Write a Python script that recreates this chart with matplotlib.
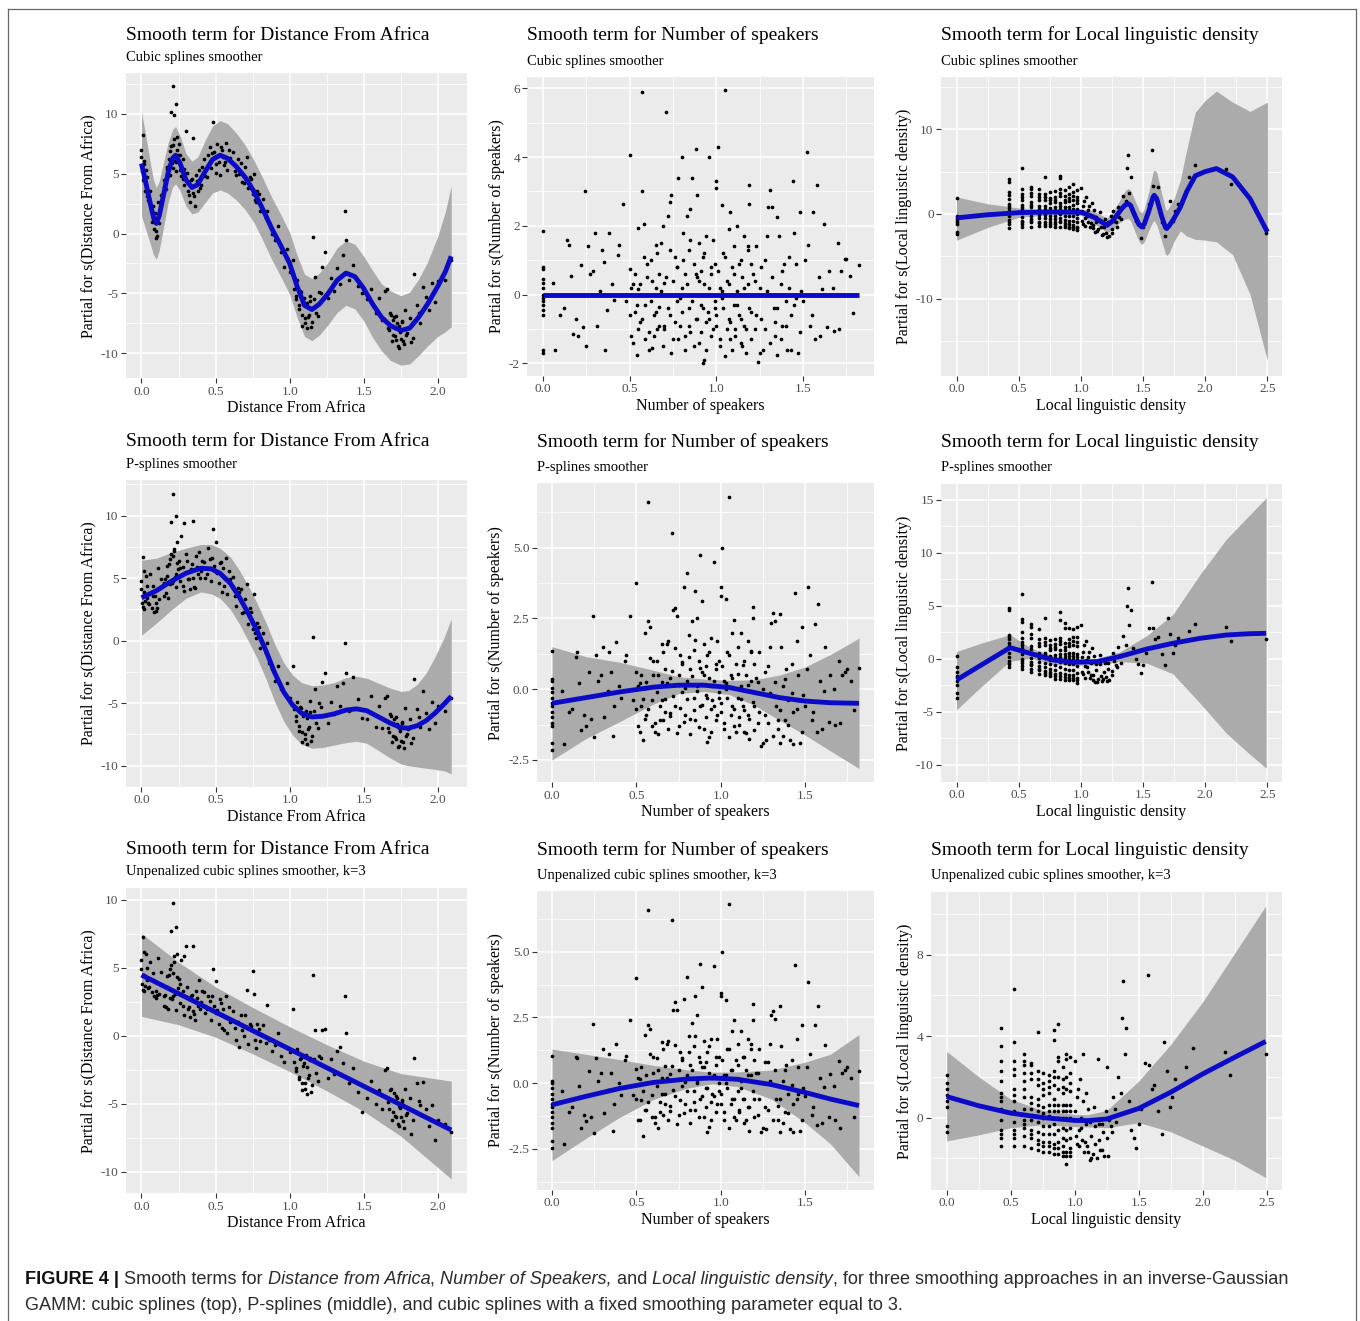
import numpy as np
import matplotlib
matplotlib.use("Agg")
import matplotlib.pyplot as plt
from matplotlib.lines import Line2D


# DATA: partial residuals (one x list per predictor,
# one y list per smoother), plus fitted smooths and their bands

dist_x = [
    0.0, 0.005, 0.01, 0.015, 0.02, 0.03, 0.04, 0.05,
    0.06, 0.07, 0.08, 0.085, 0.09, 0.095, 0.10, 0.11, 0.12, 0.13,
    0.15, 0.16, 0.17, 0.18, 0.19, 0.20, 0.205, 0.21, 0.215, 0.22, 0.225, 0.23, 0.235, 0.24, 0.245, 0.25, 0.26, 0.27, 0.28, 0.285, 0.29, 0.30,
    0.31, 0.32, 0.33, 0.34, 0.345, 0.35, 0.36, 0.37, 0.38, 0.39, 0.40, 0.42, 0.43, 0.45,
    0.46, 0.47, 0.48, 0.49, 0.50, 0.51, 0.52, 0.53, 0.54, 0.55, 0.56, 0.57, 0.58, 0.60,
    0.62, 0.64, 0.65, 0.66, 0.68, 0.70, 0.71, 0.72, 0.74, 0.75, 0.76, 0.77, 0.78, 0.80,
    0.82, 0.84, 0.85, 0.86, 0.88, 0.90, 0.92, 0.94, 0.96, 0.98,
    1.00, 1.02, 1.04, 1.05, 1.06, 1.07, 1.08, 1.09, 1.10, 1.11, 1.12, 1.13, 1.14, 1.15, 1.16, 1.17, 1.18, 1.20, 1.22, 1.24,
    1.26, 1.28, 1.30, 1.32, 1.34, 1.36, 1.37, 1.38, 1.40, 1.43, 1.46, 1.49,
    1.52, 1.55, 1.58, 1.60, 1.62, 1.64,
    1.66, 1.67, 1.68, 1.69, 1.70, 1.71, 1.72, 1.73, 1.74, 1.75, 1.76, 1.77, 1.78, 1.79, 1.80, 1.82, 1.84, 1.86, 1.88, 1.90,
    1.92, 1.94, 1.96, 1.98, 2.00, 2.05, 2.09,
    # core of the clusters
    0.0, 0.01, 0.02, 0.025, 0.035, 0.045, 0.075, 0.105,
    0.155, 0.165, 0.175, 0.185, 0.195, 0.20, 0.21, 0.22, 0.23, 0.24, 0.26, 0.28,
    0.315, 0.335, 0.355, 0.375, 0.395, 0.41, 0.44, 0.475, 0.505, 0.535, 0.565, 0.59,
    0.63, 0.67, 0.69, 0.73, 0.765, 0.79,
    1.03, 1.045, 1.065, 1.075, 1.085, 1.095, 1.105, 1.115, 1.125, 1.135, 1.145, 1.165, 1.19, 1.21,
    1.665, 1.685, 1.695, 1.705, 1.715, 1.725, 1.735, 1.745, 1.755, 1.765, 1.785, 1.81, 1.83, 1.87,
]
dist_y_cs = [
    7.0, 5.2, 8.2, 6.1, 4.6, 5.3, 3.1, 2.6,
    3.6, 1.0, 2.3, 0.4, 1.7, -0.4, 0.2, 2.6, 0.9, 3.2,
    3.9, 4.2, 5.6, 4.8, 6.9, 10.2, 5.9, 12.3, 7.4, 9.9, 6.1, 10.8, 5.2, 8.1, 6.6, 7.5, 5.3, 4.8, 6.2, 4.1, 5.4, 8.6,
    5.1, 3.2, 2.6, 4.6, 8.0, 3.4, 2.3, 4.9, 3.6, 5.3, 4.1, 6.2, 4.8, 6.6,
    7.2, 5.5, 9.3, 6.8, 5.1, 7.5, 6.0, 4.9, 7.0, 6.4, 5.7, 7.6, 5.3, 6.3,
    6.8, 4.9, 6.2, 5.0, 4.3, 5.6, 6.4, 3.8, 4.6, 3.3, 5.0, 2.6, 3.6, 1.9,
    2.9, 1.3, 1.9, 0.9, 0.0, -0.5, 0.6, -1.5, -2.8, -1.3,
    -3.2, -2.2, -5.5, -3.9, -6.3, -4.8, -7.7, -5.6, -7.1, -5.9, -7.9, -6.8, -5.2, -7.4, -0.3, -3.6, -6.6, -4.9, -2.8, -1.5,
    -5.4, -3.7, -4.8, -2.9, -4.2, -1.8, 1.9, -0.5, -3.9, -2.6, -4.4, -5.0,
    -5.5, -4.6, -6.6, -5.4, -7.2, -4.8,
    -4.6, -8.1, -6.6, -9.0, -7.2, -8.6, -6.9, -9.4, -7.7, -8.8, -7.3, -9.2, -6.4, -8.3, -7.9, -9.1, -3.4, -6.0, -7.5, -4.5,
    -5.3, -6.4, -4.1, -5.7, -4.0, -3.9, -2.2,
    6.4, 4.5, 5.8, 3.6, 4.7, 2.8, 1.2, -0.2,
    4.5, 3.7, 5.4, 6.2, 4.9, 7.3, 5.5, 7.9, 6.0, 7.0, 6.6, 4.6,
    3.6, 4.5, 3.1, 4.4, 3.8, 5.6, 4.7, 6.7, 5.8, 7.2, 6.0, 7.0,
    5.2, 5.9, 4.2, 4.7, 2.8, 3.3,
    -4.6, -5.2, -6.0, -4.9, -6.8, -5.4, -7.5, -5.8, -7.0, -5.6, -7.8, -5.5, -6.9, -5.0,
    -7.9, -6.8, -8.5, -7.0, -8.9, -7.5, -9.6, -8.2, -7.4, -9.0, -8.5, -7.1, -8.7, -6.6,
]
dist_y_ps = [
    4.8, 3.0, 6.7, 3.9, 2.5, 5.2, 3.4, 2.9,
    5.3, 2.6, 4.4, 2.3, 3.6, 2.4, 3.0, 5.8, 3.3, 4.9,
    3.6, 4.9, 6.0, 3.4, 6.5, 9.5, 4.6, 11.7, 6.8, 7.2, 5.1, 10.0, 4.3, 7.9, 5.7, 6.4, 4.8, 8.4, 5.9, 4.0, 9.4, 6.9,
    6.4, 4.9, 4.1, 6.1, 9.6, 5.0, 4.2, 6.8, 5.3, 7.1, 5.6, 6.3, 5.0, 7.4,
    6.5, 4.8, 8.9, 6.0, 7.9, 5.4, 4.6, 6.2, 3.9, 5.8, 4.4, 6.6, 3.7, 4.9,
    5.1, 2.8, 4.2, 3.9, 2.2, 3.3, 4.5, 1.3, 2.3, 0.9, 3.7, 0.2, 1.4, -0.6,
    0.6, -1.0, -0.2, -1.8, -2.3, -3.2, -2.0, -3.9, -4.2, -3.4,
    -4.6, -2.0, -6.4, -4.9, -7.2, -5.3, -8.1, -6.0, -7.5, -5.6, -8.3, -6.9, -4.8, -7.6, 0.3, -3.9, -6.6, -5.0, -3.3, -2.6,
    -6.6, -4.9, -5.9, -3.6, -5.2, -3.4, -0.2, -2.6, -5.6, -2.9, -4.7, -6.2,
    -6.3, -4.4, -6.9, -5.2, -7.0, -4.6,
    -4.4, -7.3, -5.9, -8.1, -6.6, -7.7, -6.1, -8.5, -7.0, -8.0, -6.5, -8.6, -5.4, -7.5, -7.1, -8.2, -3.1, -5.5, -6.9, -4.0,
    -5.8, -7.1, -4.9, -6.6, -5.2, -5.6, -4.6,
    4.1, 2.7, 5.6, 3.2, 4.4, 3.0, 3.6, 2.6,
    4.6, 3.8, 5.2, 6.1, 4.5, 6.9, 4.8, 7.3, 5.3, 6.2, 5.8, 4.4,
    4.9, 5.7, 4.3, 5.9, 5.0, 6.4, 5.3, 6.6, 5.5, 6.3, 4.9, 5.6,
    3.6, 4.1, 2.3, 2.6, 0.6, 1.1,
    -5.5, -6.0, -6.8, -5.4, -7.3, -5.8, -7.9, -6.2, -7.1, -5.7, -8.0, -5.6, -7.0, -5.3,
    -7.0, -6.0, -7.6, -6.3, -7.9, -6.7, -8.4, -7.2, -6.6, -8.1, -7.6, -6.3, -7.8, -6.1,
]
dist_y_k3 = [
    5.6, 3.8, 7.3, 4.5, 3.3, 6.0, 4.1, 3.6,
    5.4, 3.2, 4.6, 2.9, 4.0, 2.8, 3.3, 5.7, 3.1, 4.7,
    2.2, 3.0, 4.4, 2.0, 4.9, 7.7, 2.7, 9.8, 4.6, 5.9, 3.1, 8.0, 1.9, 6.0, 3.5, 4.2, 2.4, 5.6, 3.3, 1.5, 5.9, 6.6,
    3.6, 2.1, 1.4, 3.0, 6.6, 1.8, 1.2, 3.3, 2.2, 4.1, 2.5, 3.2, 1.7, 2.9,
    2.6, 1.2, 4.9, 2.2, 4.0, 1.9, 0.9, 2.7, 0.6, 2.0, 0.4, 2.9, 0.2, 1.0,
    1.8, -0.3, 1.0, -0.8, 0.4, 1.5, 3.4, -0.6, 0.7, 4.8, 3.1, -0.9, 0.9, -0.4,
    0.8, -0.5, 2.3, -0.3, -1.1, -0.7, 0.2, -1.5, -1.9, -0.9,
    -1.2, 2.0, -2.6, -1.0, -3.2, -1.7, -4.0, -2.2, -3.5, -1.4, -4.3, -2.9, -1.6, -3.6, 4.5, 0.4, -2.7, -1.5, 0.4, 0.5,
    -3.1, -1.7, -2.8, -1.1, -0.8, -2.0, 2.9, 0.2, -3.5, -2.4, -4.1, -5.6,
    -4.6, -3.3, -5.0, -4.0, -5.4, -2.5,
    -2.4, -5.4, -4.0, -6.2, -4.7, -5.9, -4.4, -6.5, -5.2, -6.0, -4.9, -6.8, -3.9, -5.7, -5.3, -7.2, -1.6, -3.5, -5.1, -3.4,
    -5.4, -6.6, -5.1, -7.7, -6.2, -6.5, -7.1,
    4.9, 3.4, 6.2, 3.7, 5.0, 3.5, 4.1, 3.0,
    2.9, 2.1, 3.6, 4.5, 2.8, 5.2, 2.9, 5.4, 3.2, 4.3, 3.8, 2.2,
    2.0, 2.9, 1.6, 2.8, 2.0, 3.3, 2.0, 2.9, 1.7, 2.4, 1.4, 2.1,
    0.6, 1.5, 0.0, 0.9, -0.3, 0.5,
    -1.9, -2.4, -3.0, -1.6, -3.5, -2.0, -3.9, -2.3, -3.1, -1.8, -4.1, -1.7, -3.3, -1.6,
    -4.9, -3.9, -5.6, -4.2, -6.0, -4.6, -6.6, -5.3, -4.7, -6.3, -5.8, -4.6, -6.2, -4.8,
]

spk_x = [
    0.0, 0.0, 0.0, 0.0, 0.0, 0.0, 0.0, 0.0, 0.0, 0.0, 0.0, 0.0, 0.0, 0.0,
    0.06, 0.07, 0.10, 0.12, 0.14, 0.15, 0.16, 0.17, 0.19, 0.20, 0.22, 0.23, 0.24, 0.25, 0.26,
    0.27, 0.29, 0.30, 0.31, 0.33, 0.34, 0.35, 0.36, 0.37, 0.38, 0.40, 0.41, 0.43, 0.44, 0.46,
    0.48, 0.50, 0.50, 0.51, 0.52, 0.53, 0.54, 0.55, 0.55, 0.56, 0.57, 0.57, 0.58, 0.59, 0.60,
    0.61, 0.62, 0.63, 0.64, 0.65, 0.65, 0.66, 0.67, 0.67, 0.68, 0.69, 0.70, 0.70, 0.71, 0.72,
    0.73, 0.73, 0.74, 0.75, 0.75, 0.76, 0.77, 0.77, 0.78, 0.79, 0.80, 0.80, 0.81, 0.82, 0.82,
    0.83, 0.84, 0.84, 0.85, 0.85, 0.86, 0.86, 0.87, 0.88, 0.88, 0.89, 0.89, 0.90, 0.90, 0.91,
    0.91, 0.92, 0.92, 0.93, 0.93, 0.94, 0.94, 0.96, 0.95, 0.96,
    0.97, 0.97, 0.98, 0.99, 0.99, 1.00, 1.00, 1.00, 1.01, 1.02, 1.02, 1.03, 1.03, 1.04, 1.05,
    1.05, 1.06, 1.07, 1.07, 1.08, 1.08, 1.09, 1.10, 1.10, 1.11, 1.12, 1.12, 1.13, 1.14, 1.14,
    1.15, 1.16, 1.16, 1.17, 1.18, 1.18, 1.19, 1.19, 1.20, 1.20,
    1.21, 1.22, 1.23, 1.24, 1.25, 1.26, 1.27, 1.28, 1.29, 1.30, 1.31, 1.32, 1.33, 1.34, 1.35,
    1.35, 1.36, 1.37, 1.38, 1.39, 1.40, 1.41, 1.42, 1.43, 1.44, 1.45, 1.46, 1.47, 1.48, 1.49,
    1.51, 1.52, 1.53, 1.54, 1.55, 1.56, 1.57, 1.58, 1.59, 1.60, 1.61, 1.62,
    1.64, 1.65, 1.67, 1.68, 1.70, 1.71, 1.72, 1.74, 1.75, 1.77, 1.79, 1.82,
    # core of the cloud
    0.50, 0.51, 0.52, 0.53, 0.54, 0.55, 0.56, 0.57, 0.58, 0.59,
    0.60, 0.61, 0.62, 0.63, 0.64, 0.65, 0.66, 0.67, 0.68, 0.69,
    0.70, 0.71, 0.72, 0.73, 0.74, 0.75, 0.76, 0.77, 0.78, 0.79,
    0.80, 0.81, 0.82, 0.83, 0.84, 0.85, 0.86, 0.87, 0.88, 0.89,
    0.90, 0.91, 0.92, 0.93, 0.94, 0.95, 0.96, 0.97, 0.98, 0.99,
    1.00, 1.01, 1.02, 1.03, 1.04, 1.05, 1.06, 1.07, 1.08, 1.09,
    1.10, 1.11, 1.12, 1.13, 1.14, 1.15, 1.16, 1.17, 1.18, 1.19,
    1.20, 1.22, 1.23, 1.25, 1.26, 1.28, 1.29, 1.31, 1.32, 1.34,
    1.35, 1.37, 1.38, 1.40, 1.42, 1.43, 1.45, 1.46, 1.48, 1.50,
]
spk_y_cs = [
    1.85, 0.8, 0.75, 0.45, 0.35, 0.2, 0.0, -0.1, -0.2, -0.3, -0.45, -0.6, -1.6, -1.7,
    0.35, -1.6, -0.6, -0.4, 1.6, 1.45, 0.55, -1.15, -0.7, -1.2, 0.85, -0.95, 3.0, -1.5, 1.4,
    0.6, 0.7, 1.8, -0.9, 0.1, 1.3, 0.95, -1.6, -0.45, 1.8, 0.3, -0.15, 1.15, 1.45, 2.65,
    -0.2, 4.05, 0.75, -1.2, 0.3, -0.5, -1.75, 1.95, 0.15, -0.8, 5.9, 3.0, 2.05, -0.3, 0.5,
    -1.1, 1.0, -1.55, -0.6, 0.2, 1.45, -1.0, 0.6, -0.35, 1.5, 2.0, -0.9, 0.35, 5.3, 2.3,
    2.7, -0.6, 2.9, 0.4, -1.3, 1.1, -0.2, 0.8, 3.4, -0.9, 4.0, 0.2, 1.8, -1.6, 0.6,
    2.3, -0.4, 1.3, 2.5, -1.1, 3.4, 0.0, 0.9, 4.25, -0.7, 2.9, 0.5, -1.4, 1.5, -0.3,
    0.7, -2.0, 1.1, -1.9, 0.3, -0.8, 1.7, 4.0, -0.5, 0.2,
    -1.2, 0.6, 1.6, -0.4, 0.9, 3.3, 3.1, -0.9, 4.3, 0.2, -1.5, 2.6, -0.1, 1.2, 5.95,
    -1.8, 0.4, -0.7, 1.9, 2.4, -1.3, 0.8, -0.3, 1.4, -1.0, 0.1, 2.0, -0.6, 1.0, -1.4,
    0.5, -0.9, 1.7, -1.7, 0.3, 1.3, 3.2, 2.65, -0.5, 0.9,
    0.6, -1.0, 1.4, -1.95, 0.2, -0.7, -1.6, 1.0, 1.7, 2.55, 3.05, 2.55, -0.4, -1.2, 2.25,
    -1.75, 1.7, 0.3, -0.9, 0.9, -0.2, -1.6, 1.1, -0.6, 3.3, 1.8, -0.1, -1.7, 2.4, 0.1,
    1.0, 4.15, 1.45, -0.9, -0.6, 2.4, -1.3, 3.2, 0.5, -1.2, 0.15, 2.05,
    -0.95, 0.7, 0.2, -1.05, 1.5, -1.0, 0.7, 1.05, 1.05, 0.55, -0.55, 0.85,
    -0.6, 0.2, -1.4, 0.6, -0.3, -1.0, 0.3, -0.7, 1.1, -1.3,
    0.9, -1.6, -0.2, 0.4, -1.2, -0.5, 1.2, -0.9, 0.1, -1.5,
    -1.0, 0.5, -0.4, 1.3, -1.7, 0.0, -0.8, 0.8, -1.3, -0.1,
    -0.5, 1.0, -1.2, 0.3, -0.9, 1.6, -0.2, -1.5, 0.6, -0.7,
    0.4, -1.1, -0.4, 1.2, -1.6, 0.0, -0.7, 0.8, -1.0, -0.2,
    -0.6, 0.7, -1.3, 0.1, -0.4, 1.1, -1.0, 0.3, -0.8, -1.6,
    0.6, -1.2, -0.3, 0.9, -0.7, -1.5, 0.2, -1.0, 1.4, -0.4,
    -1.3, 0.4, -0.6, -1.7, 0.8, -1.0, 0.1, -1.4, 0.5, -0.8,
    -0.4, -1.3, 0.7, -0.9, 0.2, -1.6, -0.3, 0.9, -1.1, -0.2,
]
spk_y_ps = [
    1.35, 0.35, 0.3, 0.05, -0.1, -0.3, -0.5, -0.6, -0.8, -1.0, -1.2, -1.3, -1.9, -2.15,
    -0.05, -1.95, -0.8, -0.7, 1.15, 1.3, 0.2, -1.45, -0.9, -1.3, 0.6, -1.05, 2.6, -1.7, 1.2,
    0.3, 0.5, 1.5, -1.0, -0.05, 1.3, 0.6, -1.65, -0.6, 1.65, 0.1, -0.3, 1.0, 1.2, 2.6,
    -0.4, 3.75, 0.6, -1.3, 0.2, -0.6, -1.8, 2.0, 0.05, -0.9, 6.6, 2.4, 2.2, -0.4, 0.5,
    -1.2, 1.0, -1.6, -0.6, 0.25, 1.6, -1.1, 0.7, -0.35, 1.6, 1.7, -0.95, 0.4, 5.5, 2.8,
    2.85, -0.6, 2.6, 0.5, -1.3, 1.2, -0.1, 0.9, 3.6, -0.9, 4.1, 0.3, 1.9, -1.6, 0.7,
    2.4, -0.3, 1.4, 3.45, -1.1, 2.5, 0.1, 1.0, 4.75, -0.6, 3.1, 0.6, -1.4, 1.6, -0.2,
    0.8, -1.85, 1.2, -1.7, 0.4, -0.7, 1.8, 4.5, -0.4, 0.3,
    -1.1, 0.7, 1.7, -0.3, 1.0, 3.6, 3.3, -0.8, 5.0, 0.3, -1.4, 3.2, 0.0, 1.3, 6.8,
    -1.7, 0.5, -0.6, 2.0, 2.45, -1.3, 0.9, -0.3, 1.5, -1.0, 0.1, 2.0, -0.6, 1.0, -1.5,
    0.5, -0.9, 1.7, -1.75, 0.3, 1.3, 2.9, 2.5, -0.6, 0.9,
    0.4, -1.2, 1.3, -2.0, 0.0, -0.9, -1.8, 0.8, 1.5, 2.35, 2.7, 2.4, -0.6, -1.4, 2.65,
    -1.9, 1.5, 0.1, -1.1, 0.7, -0.4, -1.8, 0.9, -0.8, 3.4, 1.7, -0.4, -1.9, 2.2, -0.2,
    0.7, 3.6, 1.2, -1.1, -0.8, 2.3, -1.5, 3.0, 0.3, -1.4, -0.05, 1.5,
    -1.15, 0.5, 0.0, -1.25, 1.0, -1.2, 0.5, 0.6, 0.7, 0.3, -0.75, 0.75,
    -0.7, 0.1, -1.5, 0.5, -0.35, -1.05, 0.25, -0.7, 1.1, -1.3,
    1.0, -1.5, -0.1, 0.5, -1.1, -0.4, 1.3, -0.8, 0.2, -1.4,
    -0.85, 0.65, -0.25, 1.45, -1.55, 0.15, -0.65, 0.95, -1.15, 0.05,
    -0.35, 1.15, -1.05, 0.45, -0.75, 1.75, -0.05, -1.35, 0.75, -0.55,
    0.5, -1.0, -0.3, 1.3, -1.5, 0.1, -0.6, 0.9, -0.9, -0.1,
    -0.5, 0.8, -1.2, 0.2, -0.3, 1.2, -0.9, 0.4, -0.7, -1.5,
    0.55, -1.25, -0.35, 0.85, -0.75, -1.55, 0.15, -1.05, 1.35, -0.45,
    -1.45, 0.25, -0.8, -1.9, 0.6, -1.2, -0.15, -1.65, 0.25, -1.1,
    -0.75, -1.65, 0.35, -1.25, -0.15, -1.95, -0.7, 0.5, -1.5, -0.6,
]
spk_y_k3 = [
    1.05, 0.1, 0.0, -0.2, -0.4, -0.6, -0.8, -0.9, -1.1, -1.3, -1.5, -1.7, -2.2, -2.45,
    -0.3, -2.3, -1.1, -0.9, 1.0, 0.95, -0.1, -1.7, -1.2, -1.45, 0.45, -1.3, 2.25, -1.9, 0.95,
    0.1, 0.4, 1.3, -1.15, -0.25, 1.1, 0.4, -1.8, -0.8, 1.5, 0.0, -0.45, 0.9, 1.05, 2.4,
    -0.45, 4.0, 0.55, -1.4, 0.15, -0.65, -2.0, 1.85, 0.0, -1.0, 6.6, 2.2, 2.05, -0.45, 0.4,
    -1.3, 0.95, -1.7, -0.7, 0.2, 1.55, -1.2, 0.65, -0.4, 1.5, 1.6, -1.05, 0.35, 6.2, 2.8,
    3.1, -0.5, 2.8, 0.5, -1.2, 1.2, -0.1, 0.9, 3.2, -0.8, 4.05, 0.3, 1.8, -1.5, 0.7,
    2.3, -0.3, 1.4, 3.3, -1.0, 2.6, 0.1, 1.0, 4.55, -0.6, 3.65, 0.6, -1.3, 1.6, -0.2,
    0.8, -1.85, 1.2, -1.65, 0.4, -0.7, 1.7, 4.45, -0.4, 0.3,
    -1.1, 0.7, 1.7, -0.3, 1.0, 3.45, 3.3, -0.8, 5.0, 0.3, -1.4, 3.15, 0.0, 1.3, 6.8,
    -1.7, 0.5, -0.6, 2.0, 2.4, -1.3, 0.9, -0.3, 1.5, -1.0, 0.1, 2.0, -0.6, 1.0, -1.5,
    0.5, -0.9, 1.7, -1.8, 0.3, 1.3, 3.0, 2.4, -0.6, 0.9,
    0.4, -1.2, 1.3, -1.85, 0.0, -0.9, -1.75, 0.8, 1.5, 2.6, 2.75, 2.45, -0.6, -1.4, 2.95,
    -1.85, 1.4, 0.1, -1.1, 0.7, -0.4, -1.75, 0.9, -0.8, 4.5, 1.7, -0.4, -1.8, 2.2, -0.2,
    0.6, 3.85, 1.1, -1.2, -0.9, 2.2, -1.6, 2.95, 0.2, -1.5, -0.15, 1.45,
    -1.3, 0.35, -0.1, -1.4, 0.85, -1.7, 0.4, 0.5, 0.6, 0.2, -1.3, 0.45,
    -0.6, 0.2, -1.4, 0.6, -0.3, -1.0, 0.3, -0.7, 1.1, -1.3,
    1.0, -1.5, -0.1, 0.5, -1.1, -0.4, 1.3, -0.8, 0.2, -1.4,
    -0.85, 0.65, -0.25, 1.45, -1.55, 0.15, -0.65, 0.95, -1.15, 0.05,
    -0.3, 1.2, -1.0, 0.5, -0.7, 1.8, 0.0, -1.3, 0.8, -0.5,
    0.6, -0.9, -0.2, 1.4, -1.4, 0.2, -0.5, 1.0, -0.8, 0.0,
    -0.4, 0.9, -1.1, 0.3, -0.2, 1.3, -0.8, 0.5, -0.6, -1.4,
    0.7, -1.1, -0.2, 1.0, -0.6, -1.4, 0.3, -0.9, 1.5, -0.3,
    -1.3, 0.4, -0.6, -1.7, 0.8, -1.0, 0.1, -1.4, 0.5, -0.85,
    -0.6, -1.5, 0.5, -1.15, -0.05, -1.85, -0.6, 0.6, -1.4, -0.5,
]

dens_x = [
    0.0, 0.0, 0.0, 0.0, 0.0, 0.0, 0.0, 0.0,
    0.42, 0.42, 0.42, 0.42, 0.42, 0.42, 0.42, 0.42, 0.42, 0.42, 0.42,
    0.525, 0.525, 0.525, 0.525, 0.525, 0.525, 0.525, 0.525, 0.525, 0.525, 0.525,
    0.60, 0.60, 0.60, 0.60, 0.60, 0.60, 0.60, 0.60, 0.60, 0.60,
    0.66, 0.66, 0.66, 0.66, 0.66, 0.66, 0.66, 0.66, 0.66,
    0.71, 0.71, 0.71, 0.71, 0.71, 0.71, 0.71, 0.71, 0.71,
    0.755, 0.755, 0.755, 0.755, 0.755, 0.755, 0.755, 0.755, 0.755,
    0.795, 0.795, 0.795, 0.795, 0.795, 0.795, 0.795, 0.795, 0.795,
    0.835, 0.835, 0.835, 0.835, 0.835, 0.835, 0.835, 0.835, 0.835, 0.835,
    0.87, 0.87, 0.87, 0.87, 0.87, 0.87, 0.87, 0.87, 0.87,
    0.905, 0.905, 0.905, 0.905, 0.905, 0.905, 0.905, 0.905, 0.905,
    0.935, 0.935, 0.935, 0.935, 0.935, 0.935, 0.935, 0.935, 0.935,
    0.965, 0.965, 0.965, 0.965, 0.965, 0.965, 0.965, 0.965, 0.965,
    1.00, 1.01, 1.02, 1.03, 1.04, 1.05, 1.06, 1.08, 1.09, 1.10,
    1.12, 1.13, 1.15, 1.16, 1.18, 1.19, 1.21, 1.22, 1.24, 1.25,
    1.26, 1.28, 1.30, 1.32, 1.34, 1.36, 1.37, 1.38, 1.39, 1.40,
    1.42, 1.44, 1.46, 1.48, 1.50, 1.52, 1.55, 1.57, 1.58, 1.60,
    1.62, 1.65, 1.68, 1.70, 1.72, 1.74, 1.76, 1.78,
    1.87, 1.92, 2.17, 2.21, 2.49,
    # core of the stacks and of the cloud
    0.42, 0.42, 0.42, 0.525, 0.525, 0.525, 0.60, 0.60, 0.60, 0.66, 0.66, 0.66,
    0.71, 0.71, 0.71, 0.755, 0.755, 0.755, 0.795, 0.795, 0.795, 0.835, 0.835, 0.835,
    0.87, 0.87, 0.87, 0.905, 0.905, 0.905, 0.935, 0.935, 0.935, 0.965, 0.965, 0.965,
    1.005, 1.015, 1.025, 1.035, 1.045, 1.055, 1.065, 1.075, 1.085, 1.095, 1.105, 1.115,
    1.125, 1.14, 1.155, 1.17, 1.185, 1.20, 1.215, 1.23, 1.25, 1.27, 1.29, 1.31,
]
dens_y_cs = [
    1.9, -0.2, -0.5, -0.7, -0.9, -1.2, -2.1, -2.4,
    4.1, 3.8, 2.6, 1.8, 1.2, 0.7, 0.3, -0.2, -0.7, -1.2, -1.7,
    5.4, 3.0, 2.4, 1.7, 1.1, 0.6, 0.1, -0.4, -0.8, -1.2, -1.6,
    3.2, 2.9, 2.1, 1.4, 0.8, 0.3, -0.2, -0.6, -1.0, -1.5,
    3.0, 2.3, 1.6, 0.9, 0.4, -0.1, -0.5, -0.9, -1.4,
    4.4, 2.4, 1.6, 0.9, 0.4, -0.1, -0.5, -0.9, -1.4,
    2.6, 1.9, 1.3, 0.7, 0.2, -0.2, -0.6, -1.0, -1.4,
    2.7, 2.0, 1.4, 0.8, 0.3, -0.2, -0.6, -1.0, -1.5,
    4.5, 4.2, 3.0, 2.1, 1.3, 0.6, 0.0, -0.5, -1.0, -1.5,
    2.8, 2.1, 1.4, 0.8, 0.2, -0.3, -0.7, -1.1, -1.6,
    3.2, 2.3, 1.5, 0.8, 0.2, -0.3, -0.8, -1.2, -1.7,
    3.5, 2.6, 1.7, 1.0, 0.3, -0.3, -0.8, -1.3, -1.8,
    2.8, 2.0, 1.3, 0.6, 0.0, -0.5, -1.0, -1.5, -1.9,
    3.1, -0.8, 0.9, -1.4, 2.0, -0.3, 0.5, -1.1, 1.3, -1.7,
    -0.4, -2.0, 0.2, -1.5, -2.4, -0.6, -2.7, -1.2, -0.3, -2.3,
    0.4, -1.0, 0.8, -0.6, 2.1, 1.5, 5.4, 6.9, 2.5, 4.4,
    0.2, -0.8, -1.2, -2.8, -1.6, -0.3, 1.2, 7.6, 3.3, 1.9,
    3.2, -0.9, -2.6, -1.4, 1.5, -0.8, 0.4, 1.2,
    4.3, 5.8, 5.3, 3.5, -2.2,
    2.2, 0.9, -1.0, 2.0, 0.8, -1.0, 2.5, 1.1, -0.8, 2.0, 0.6, -1.1,
    2.0, 0.6, -1.2, 1.6, 0.5, -1.2, 1.7, 0.5, -1.2, 2.5, 0.9, -0.8,
    1.7, 0.5, -1.3, 1.9, 0.5, -1.5, 2.1, 0.6, -1.6, 1.6, 0.3, -1.7,
    0.4, -1.2, 1.5, -0.5, 0.1, -1.0, 0.9, -1.6, -0.2, -1.3, 0.5, -2.1,
    -0.9, -1.8, -0.7, -2.5, -1.6, -2.2, -0.9, -2.6, -1.8, -0.8, -1.5, -0.4,
]
dens_y_ps = [
    0.3, -0.8, -1.2, -1.6, -2.1, -2.5, -3.2, -3.7,
    4.8, 4.6, 2.3, 1.9, 1.5, 1.0, 0.6, 0.2, -0.2, -0.5, -0.8,
    6.1, 3.8, 3.5, 2.5, 1.6, 1.0, 0.5, 0.0, -0.4, -0.7, -0.9,
    3.3, 3.0, 2.0, 1.2, 0.6, 0.1, -0.3, -0.6, -0.9, -1.2,
    2.8, 1.9, 1.2, 0.6, 0.1, -0.3, -0.7, -1.0, -1.4,
    3.9, 2.0, 1.3, 0.6, 0.1, -0.4, -0.8, -1.1, -1.5,
    1.8, 1.3, 0.8, 0.3, -0.1, -0.5, -0.9, -1.2, -1.6,
    1.9, 1.4, 0.9, 0.4, -0.1, -0.6, -1.0, -1.4, -1.9,
    4.4, 3.7, 2.0, 1.4, 0.8, 0.2, -0.3, -0.8, -1.3, -1.9,
    3.4, 2.9, 1.5, 0.8, 0.2, -0.4, -0.9, -1.4, -2.0,
    2.9, 1.9, 1.2, 0.6, 0.0, -0.5, -1.0, -1.5, -2.0,
    2.8, 2.1, 1.3, 0.6, 0.0, -0.5, -1.0, -1.5, -2.0,
    3.0, 2.1, 1.2, 0.5, -0.1, -0.7, -1.3, -1.8, -2.3,
    3.2, -1.2, 0.7, -1.8, 1.7, -0.8, 0.2, -1.5, 1.0, -2.0,
    -0.5, -2.2, 0.4, -1.6, -1.9, -0.4, -2.1, -0.9, 0.1, -1.5,
    0.6, -0.6, 1.1, -0.4, 2.2, 1.3, 5.0, 6.7, 3.2, 4.6,
    1.0, 0.0, -0.5, -1.3, -0.6, 0.6, 2.9, 7.3, 2.9, 1.9,
    2.1, 0.5, -0.6, 3.9, 2.4, 0.6, 1.3, 2.0,
    2.6, 3.3, 3.0, 1.7, 1.9,
    2.1, 1.2, -0.4, 2.0, 1.3, -0.2, 2.4, 0.9, -0.5, 1.5, 0.4, -0.9,
    1.6, 0.4, -1.3, 1.0, 0.1, -1.4, 1.1, 0.1, -1.6, 1.7, 0.5, -1.6,
    1.1, 0.5, -1.7, 1.5, 0.3, -1.8, 1.7, 0.3, -1.8, 1.6, 0.2, -2.0,
    0.2, -1.4, 1.3, -0.7, -0.1, -1.2, 0.7, -1.8, -0.4, -1.5, 0.3, -2.2,
    -1.0, -1.9, -0.5, -2.1, -1.2, -1.7, -0.4, -2.0, -1.1, -0.2, -0.8, 0.3,
]
dens_y_k3 = [
    2.1, 1.7, 1.4, 1.1, 0.8, 0.5, -0.4, -0.7,
    4.4, 3.5, 2.8, 1.8, 1.2, 0.8, 0.4, -0.1, -0.6, -1.0, -1.4,
    6.3, 3.7, 2.8, 2.1, 1.4, 0.8, 0.3, -0.2, -0.6, -1.0, -1.4,
    3.1, 2.8, 2.6, 1.8, 1.0, 0.4, -0.1, -0.5, -0.9, -1.4,
    2.7, 2.6, 1.9, 1.0, 0.4, -0.1, -0.6, -1.0, -1.5,
    4.2, 2.3, 1.6, 0.9, 0.3, -0.2, -0.7, -1.1, -1.6,
    2.2, 1.7, 1.1, 0.5, 0.0, -0.4, -0.8, -1.2, -1.7,
    2.1, 1.8, 1.2, 0.6, 0.1, -0.4, -0.8, -1.2, -1.7,
    4.3, 3.8, 2.3, 1.6, 0.9, 0.3, -0.3, -0.8, -1.3, -1.8,
    4.6, 3.0, 2.8, 1.4, 0.6, 0.0, -0.6, -1.2, -1.8,
    2.5, 1.9, 1.2, 0.6, 0.0, -0.5, -1.0, -1.4, -1.9,
    3.1, 2.9, 1.4, 0.6, 0.0, -0.6, -1.1, -1.7, -2.3,
    3.0, 2.2, 1.3, 0.6, 0.0, -0.5, -1.0, -1.5, -1.9,
    2.8, -0.9, 1.0, -1.4, 1.9, -0.5, 3.1, -1.2, 1.2, -1.7,
    -0.2, -2.0, 0.5, -1.3, 2.9, -0.3, -1.6, -0.7, 0.3, 2.5,
    -1.9, -0.4, 1.0, -0.2, 2.0, 1.2, 4.9, 6.7, 3.1, 4.4,
    0.8, -0.6, -1.0, -1.5, -0.3, 0.4, 2.7, 7.0, 2.6, 1.4,
    1.6, 0.3, -0.8, 3.7, 2.3, 0.5, 1.0, 1.9,
    2.5, 3.4, 3.2, 2.1, 3.1,
    2.3, 1.0, -0.8, 2.4, 1.1, -0.8, 2.2, 1.4, -0.3, 2.2, 0.7, -0.8,
    1.9, 0.6, -1.3, 1.4, 0.2, -1.4, 1.5, 0.3, -1.4, 2.0, 0.6, -1.5,
    2.0, 0.3, -1.5, 1.5, 0.3, -1.7, 2.0, 0.3, -1.9, 1.7, 0.3, -1.7,
    0.3, -1.3, 1.4, -0.6, 0.0, -1.1, 0.8, -1.7, -0.3, -1.4, 0.4, -2.1,
    -0.9, -1.8, -0.4, -2.0, -1.1, -1.6, -0.3, -1.9, -1.0, -0.1, -0.7, 0.4,
]

# fitted smooths: knots x, fit, upper and lower band
dist_cs_fx = [0.00, 0.03, 0.06, 0.08, 0.10, 0.12, 0.15, 0.18, 0.21, 0.23, 0.26, 0.30, 0.34, 0.38, 0.43,
              0.48, 0.53, 0.58, 0.64, 0.70, 0.76, 0.82, 0.88, 0.94, 1.00, 1.05, 1.10, 1.15, 1.20, 1.26,
              1.32, 1.38, 1.44, 1.50, 1.56, 1.62, 1.68, 1.75, 1.81, 1.87, 1.93, 2.00, 2.05, 2.09]
dist_cs_fit = [5.86, 4.2, 2.5, 1.4, 0.85, 1.5, 3.3, 5.1, 6.3, 6.55, 5.9, 4.5, 3.85, 4.1, 5.2,
               6.2, 6.55, 6.3, 5.6, 4.7, 3.5, 2.0, 0.4, -1.0, -2.5, -4.4, -6.0, -6.35, -5.9, -5.0,
               -3.9, -3.3, -3.6, -4.6, -5.9, -7.0, -7.7, -8.1, -7.9, -7.0, -5.9, -4.4, -3.2, -1.9]
dist_cs_upper = [10.2, 8.1, 5.9, 4.55, 3.85, 4.4, 6.0, 7.6, 8.7, 8.95, 8.2, 6.7, 6.05, 6.4, 7.8,
                 9.0, 9.45, 9.2, 8.4, 7.4, 6.1, 4.6, 3.0, 1.6, 0.1, -1.8, -3.4, -3.75, -3.3, -2.4,
                 -1.2, -0.6, -0.9, -1.9, -3.1, -4.2, -4.8, -5.2, -4.9, -3.8, -2.4, -0.2, 1.8, 4.0]
dist_cs_lower = [1.5, 0.3, -0.9, -1.75, -2.15, -1.4, 0.6, 2.6, 3.9, 4.15, 3.6, 2.3, 1.65, 1.8, 2.6,
                 3.4, 3.65, 3.4, 2.8, 2.0, 0.9, -0.6, -2.2, -3.6, -5.1, -7.0, -8.6, -8.95, -8.5, -7.6,
                 -6.6, -6.0, -6.3, -7.3, -8.7, -9.8, -10.6, -11.0, -10.9, -10.2, -9.4, -8.6, -8.2, -7.8]

dist_ps_fx = [0.00, 0.10, 0.20, 0.30, 0.40, 0.47, 0.53, 0.60, 0.66, 0.72, 0.78, 0.84, 0.90, 0.96, 1.02,
              1.08, 1.15, 1.22, 1.30, 1.38, 1.45, 1.52, 1.60, 1.68, 1.75, 1.80, 1.86, 1.92, 1.98, 2.04, 2.09]
dist_ps_fit = [3.44, 4.0, 4.75, 5.4, 5.8, 5.75, 5.4, 4.6, 3.5, 2.2, 0.8, -0.8, -2.6, -4.1, -5.15,
               -5.8, -6.1, -6.05, -5.85, -5.55, -5.45, -5.6, -6.1, -6.6, -6.95, -7.0, -6.8, -6.4, -5.8, -5.1, -4.45]
dist_ps_upper = [6.44, 6.6, 7.05, 7.4, 7.7, 7.7, 7.4, 6.7, 5.65, 4.4, 3.0, 1.45, -0.3, -1.75, -2.75,
                 -3.35, -3.6, -3.55, -3.35, -2.95, -2.85, -3.0, -3.4, -3.8, -4.05, -4.0, -3.5, -2.6, -1.3, 0.2, 1.75]
dist_ps_lower = [0.44, 1.4, 2.45, 3.4, 3.9, 3.75, 3.4, 2.5, 1.35, 0.0, -1.4, -3.05, -4.9, -6.45, -7.55,
                 -8.3, -8.6, -8.55, -8.35, -8.15, -8.05, -8.2, -8.8, -9.4, -9.85, -10.0, -10.1, -10.2, -10.3, -10.4, -10.65]

dist_k3_fx = [0.0, 2.09]
dist_k3_fit = [4.48, -6.93]
dist_k3_bx = [0.0, 0.25, 0.5, 0.75, 1.0, 1.25, 1.5, 1.75, 2.09]
dist_k3_upper = [7.53, 5.42, 3.6, 2.09, 0.67, -0.65, -1.86, -2.78, -3.33]
dist_k3_lower = [1.43, 0.82, -0.1, -1.32, -2.63, -4.05, -5.56, -7.38, -10.53]

spk_cs_fx = [0.0, 1.82]
spk_cs_fit = [0.0, 0.0]
spk_cs_upper = [0.05, 0.05]
spk_cs_lower = [-0.05, -0.05]

spk_ps_fx = [0.0, 0.2, 0.4, 0.6, 0.75, 0.9, 1.05, 1.2, 1.35, 1.5, 1.65, 1.82]
spk_ps_fit = [-0.5, -0.3, -0.1, 0.07, 0.14, 0.14, 0.06, -0.12, -0.3, -0.42, -0.48, -0.5]
spk_ps_upper = [1.5, 1.15, 0.95, 0.67, 0.44, 0.36, 0.31, 0.33, 0.5, 0.78, 1.22, 1.8]
spk_ps_lower = [-2.5, -1.75, -1.15, -0.53, -0.16, -0.08, -0.19, -0.57, -1.1, -1.62, -2.18, -2.8]

spk_k3_fx = [0.0, 0.2, 0.4, 0.6, 0.8, 0.95, 1.1, 1.3, 1.5, 1.65, 1.82]
spk_k3_fit = [-0.82, -0.5, -0.2, 0.03, 0.16, 0.2, 0.15, -0.05, -0.35, -0.6, -0.85]
spk_k3_upper = [1.3, 1.1, 0.9, 0.68, 0.51, 0.42, 0.43, 0.5, 0.8, 1.1, 1.85]
spk_k3_lower = [-2.94, -2.1, -1.3, -0.62, -0.19, -0.02, -0.13, -0.6, -1.5, -2.3, -3.55]

dens_cs_fx = [0.0, 0.25, 0.5, 0.75, 1.0, 1.1, 1.21, 1.25, 1.29, 1.33, 1.36, 1.38, 1.40, 1.44, 1.47, 1.49, 1.51,
              1.55, 1.58, 1.59, 1.61, 1.65, 1.68, 1.69, 1.71, 1.75, 1.80, 1.85, 1.92, 2.00, 2.09, 2.22, 2.36, 2.50]
dens_cs_fit = [-0.47, -0.1, 0.15, 0.22, 0.2, -0.35, -1.34, -0.9, -0.16, 0.65, 1.1, 1.22, 1.0, -0.4, -1.3, -1.54, -1.2,
               0.5, 2.0, 2.2, 1.8, -0.3, -1.6, -1.73, -1.4, -0.5, 0.8, 2.6, 4.5, 5.0, 5.35, 4.37, 1.8, -2.13]
dens_cs_upper = [2.0, 1.2, 0.7, 0.55, 0.55, 0.35, -0.5, 0.1, 1.0, 2.1, 2.8, 3.0, 2.8, 1.4, 0.4, 0.1, 0.6,
                 2.9, 4.9, 5.2, 4.9, 2.4, 0.6, 0.4, 0.8, 1.8, 4.0, 7.5, 12.0, 13.4, 14.5, 13.2, 12.1, 13.2]
dens_cs_lower = [-3.1, -1.6, -0.4, -0.1, -0.15, -1.05, -2.2, -1.9, -1.3, -0.8, -0.6, -0.55, -0.8, -2.3, -3.3, -3.6, -3.3,
                 -1.8, -0.9, -0.8, -1.3, -3.2, -4.7, -4.9, -4.6, -3.2, -2.0, -2.6, -3.0, -3.1, -3.3, -4.8, -9.5, -17.3]

dens_ps_fx = [0.0, 0.2, 0.43, 0.6, 0.78, 0.94, 1.13, 1.31, 1.53, 1.74, 1.96, 2.17, 2.35, 2.49]
dens_ps_fit = [-1.98, -0.56, 1.07, 0.5, -0.1, -0.31, -0.25, 0.22, 0.94, 1.48, 1.95, 2.26, 2.38, 2.42]
dens_ps_upper = [0.7, 1.5, 2.3, 1.0, 0.3, 0.0, 0.05, 0.65, 2.2, 4.2, 8.0, 11.3, 13.5, 15.2]
dens_ps_lower = [-4.8, -2.6, -0.2, 0.05, -0.5, -0.6, -0.55, -0.25, -0.4, -1.4, -4.2, -7.0, -8.9, -10.3]

dens_k3_fx = [0.0, 0.25, 0.5, 0.75, 1.0, 1.1, 1.25, 1.5, 1.75, 2.0, 2.25, 2.49]
dens_k3_fit = [1.03, 0.58, 0.22, 0.0, -0.14, -0.15, -0.07, 0.45, 1.25, 2.15, 2.97, 3.74]
dens_k3_upper = [3.25, 2.0, 0.9, 0.35, 0.15, 0.14, 0.35, 1.8, 3.6, 5.7, 8.1, 10.4]
dens_k3_lower = [-1.15, -0.85, -0.5, -0.35, -0.45, -0.46, -0.5, -0.25, -0.7, -1.4, -2.1, -2.95]


# STYLE / LAYOUT

W, H = 1360, 1321
SERIF = "Liberation Serif"
SANS = "Liberation Sans"
LINE_BLUE = "#0A0AC8"
BAND_GREY = "#ABABAB"

plt.rcParams["font.family"] = SERIF

fig = plt.figure(figsize=(W / 100, H / 100), dpi=100)
fig.patch.set_facecolor("white")

titles = ["Smooth term for Distance From Africa",
          "Smooth term for Number of speakers",
          "Smooth term for Local linguistic density"]
subtitles = ["Cubic splines smoother", "P-splines smoother",
             "Unpenalized cubic splines smoother, k=3"]
xlabels = ["Distance From Africa", "Number of speakers", "Local linguistic density"]
ylabels = ["Partial for s(Distance From Africa)", "Partial for s(Number of speakers)",
           "Partial for s(Local linguistic density)"]

col_x = [
    dict(xlim=(-0.1045, 2.1945), maj=[0, 0.5, 1, 1.5, 2], lab=["0.0", "0.5", "1.0", "1.5", "2.0"],
         minor=[0.25, 0.75, 1.25, 1.75]),
    dict(xlim=(-0.091, 1.911), maj=[0, 0.5, 1, 1.5], lab=["0.0", "0.5", "1.0", "1.5"],
         minor=[0.25, 0.75, 1.25, 1.75]),
    dict(xlim=(-0.125, 2.615), maj=[0, 0.5, 1, 1.5, 2, 2.5], lab=["0.0", "0.5", "1.0", "1.5", "2.0", "2.5"],
         minor=[0.25, 0.75, 1.25, 1.75, 2.25]),
]

y_dist = dict(maj=[-10, -5, 0, 5, 10], lab=["-10", "-5", "0", "5", "10"])
y_spk = dict(maj=[-2.5, 0, 2.5, 5], lab=["-2.5", "0.0", "2.5", "5.0"])

panels = [
    # row 1
    dict(r=0, c=0, box=(126, 466.7, 73.3, 378.3), ty=(35, 57.7), ylim=(-12.1, 13.4),
         ymaj=y_dist["maj"], ylab=y_dist["lab"], ymin=[-7.5, -2.5, 2.5, 7.5, 12.5],
         px=dist_x, py=dist_y_cs, fx=dist_cs_fx, fit=dist_cs_fit, bx=dist_cs_fx,
         up=dist_cs_upper, lo=dist_cs_lower),
    dict(r=0, c=1, box=(527.3, 874.3, 76.7, 375.7), ty=(35, 61), ylim=(-2.36, 6.34),
         ymaj=[-2, 0, 2, 4, 6], ylab=["-2", "0", "2", "4", "6"], ymin=[-1, 1, 3, 5],
         px=spk_x, py=spk_y_cs, fx=spk_cs_fx, fit=spk_cs_fit, bx=spk_cs_fx,
         up=spk_cs_upper, lo=spk_cs_lower),
    dict(r=0, c=2, box=(941, 1281.7, 76.7, 375.7), ty=(35, 61), ylim=(-19.1, 16.2),
         ymaj=[-10, 0, 10], ylab=["-10", "0", "10"], ymin=[-15, -5, 5, 15],
         px=dens_x, py=dens_y_cs, fx=dens_cs_fx, fit=dens_cs_fit, bx=dens_cs_fx,
         up=dens_cs_upper, lo=dens_cs_lower),
    # row 2
    dict(r=1, c=0, box=(126, 466.7, 480, 786.7), ty=(441.7, 464), ylim=(-11.68, 12.86),
         ymaj=y_dist["maj"], ylab=y_dist["lab"], ymin=[-7.5, -2.5, 2.5, 7.5, 12.5],
         px=dist_x, py=dist_y_ps, fx=dist_ps_fx, fit=dist_ps_fit, bx=dist_ps_fx,
         up=dist_ps_upper, lo=dist_ps_lower),
    dict(r=1, c=1, box=(536.7, 874.3, 483.3, 782.3), ty=(442.3, 468), ylim=(-3.29, 7.27),
         ymaj=y_spk["maj"], ylab=y_spk["lab"], ymin=[-1.25, 1.25, 3.75, 6.25],
         px=spk_x, py=spk_y_ps, fx=spk_ps_fx, fit=spk_ps_fit, bx=spk_ps_fx,
         up=spk_ps_upper, lo=spk_ps_lower),
    dict(r=1, c=2, box=(941, 1281.7, 484.3, 781.7), ty=(441.7, 468), ylim=(-11.58, 16.48),
         ymaj=[-10, -5, 0, 5, 10, 15], ylab=["-10", "-5", "0", "5", "10", "15"],
         ymin=[-7.5, -2.5, 2.5, 7.5, 12.5],
         px=dens_x, py=dens_y_ps, fx=dens_ps_fx, fit=dens_ps_fit, bx=dens_ps_fx,
         up=dens_ps_upper, lo=dens_ps_lower),
    # row 3
    dict(r=2, c=0, box=(126, 466.7, 888.3, 1193.3), ty=(850, 871.7), ylim=(-11.59, 10.86),
         ymaj=y_dist["maj"], ylab=y_dist["lab"], ymin=[-7.5, -2.5, 2.5, 7.5],
         px=dist_x, py=dist_y_k3, fx=dist_k3_fx, fit=dist_k3_fit, bx=dist_k3_bx,
         up=dist_k3_upper, lo=dist_k3_lower),
    dict(r=2, c=1, box=(536.7, 874.3, 891, 1190), ty=(850, 875), ylim=(-4.06, 7.31),
         ymaj=y_spk["maj"], ylab=y_spk["lab"], ymin=[-3.75, -1.25, 1.25, 3.75, 6.25],
         px=spk_x, py=spk_y_k3, fx=spk_k3_fx, fit=spk_k3_fit, bx=spk_k3_fx,
         up=spk_k3_upper, lo=spk_k3_lower),
    dict(r=2, c=2, box=(930.7, 1281.7, 891.7, 1190), ty=(850, 875), ylim=(-3.56, 11.1),
         ymaj=[0, 4, 8], ylab=["0", "4", "8"], ymin=[-2, 2, 6, 10],
         px=dens_x, py=dens_y_k3, fx=dens_k3_fx, fit=dens_k3_fit, bx=dens_k3_fx,
         up=dens_k3_upper, lo=dens_k3_lower),
]

for p in panels:
    left, right, top, bottom = p["box"]
    cx = col_x[p["c"]]
    ax = fig.add_axes([left / W, 1 - bottom / H, (right - left) / W, (bottom - top) / H])
    ax.set_facecolor("#EBEBEB")
    for s in ax.spines.values():
        s.set_visible(False)
    ax.set_xlim(cx["xlim"])
    ax.set_ylim(p["ylim"])
    ax.set_xticks(cx["maj"])
    ax.set_xticklabels(cx["lab"])
    ax.set_xticks(cx["minor"], minor=True)
    ax.set_yticks(p["ymaj"])
    ax.set_yticklabels(p["ylab"])
    ax.set_yticks(p["ymin"], minor=True)
    ax.grid(which="major", color="white", lw=1.1)
    ax.grid(which="minor", color="white", lw=0.55)
    ax.set_axisbelow(True)
    ax.tick_params(which="major", length=3.3, width=0.8, color="#333333", pad=2,
                   labelsize=9.5, labelcolor="#4D4D4D")
    ax.tick_params(which="minor", length=0)

    ax.fill_between(p["bx"], p["lo"], p["up"], color=BAND_GREY, lw=0, zorder=1)
    ax.scatter(p["px"], p["py"], s=7, c="black", lw=0, zorder=2)
    ax.plot(p["fx"], p["fit"], color=LINE_BLUE, lw=3.5, zorder=3, solid_capstyle="butt")

    ax.set_xlabel(xlabels[p["c"]], fontsize=11.5, labelpad=2)
    ax.set_ylabel(ylabels[p["c"]], fontsize=11.5, labelpad=3)

    fig.text(left / W, 1 - p["ty"][0] / H, titles[p["c"]], fontsize=14, va="center", ha="left")
    fig.text(left / W, 1 - p["ty"][1] / H, subtitles[p["r"]], fontsize=10.5, va="center", ha="left")


# CAPTION

renderer = fig.canvas.get_renderer()


def text_w(s, **kw):
    t1 = fig.text(0, 0, "x" + s + "x", **kw)
    t2 = fig.text(0, 0, "xx", **kw)
    w = t1.get_window_extent(renderer).width - t2.get_window_extent(renderer).width
    t1.remove()
    t2.remove()
    return w


line1 = [("FIGURE 4 | ", "bold", "normal"),
         ("Smooth terms for ", "normal", "normal"),
         ("Distance from Africa", "normal", "italic"),
         (", ", "normal", "normal"),
         ("Number of Speakers,", "normal", "italic"),
         (" and ", "normal", "normal"),
         ("Local linguistic density", "normal", "italic"),
         (", for three smoothing approaches in an inverse-Gaussian", "normal", "normal")]
line2 = [("GAMM: cubic splines (top), P-splines (middle), and cubic splines with a fixed "
          "smoothing parameter equal to 3.", "normal", "normal")]

base = 13.0
w1 = sum(text_w(s, family=SANS, fontsize=base, weight=wt, style=st) for s, wt, st in line1)
cap_size = base * (1288 - 25) / w1

for y_px, pieces in [(1280, line1), (1305, line2)]:
    x_px = 25
    for s, wt, st in pieces:
        kw = dict(family=SANS, fontsize=cap_size, weight=wt, style=st)
        fig.text(x_px / W, 1 - y_px / H, s, va="center", ha="left",
                 color="#111111" if wt == "bold" else "#2B2B2B", **kw)
        x_px += text_w(s, **kw)

# frame around the figure (open at the bottom)
for xs, ys in [([8, 8], [9, H]), ([1356, 1356], [9, H]), ([8, 1356], [9, 9])]:
    fig.add_artist(Line2D([x / W for x in xs], [1 - y / H for y in ys],
                          color="#666666", lw=0.9, transform=fig.transFigure))

fig.savefig("out.png", dpi=100)
